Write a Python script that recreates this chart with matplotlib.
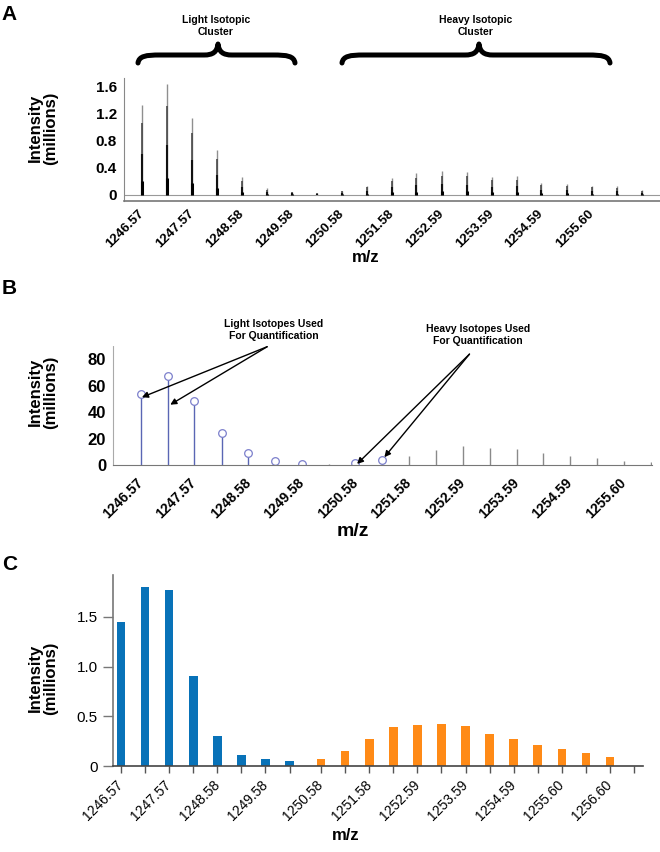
import matplotlib
matplotlib.use("Agg")
import matplotlib.pyplot as plt
from matplotlib import font_manager
from matplotlib.path import Path
from matplotlib.patches import PathPatch

# m/z of the peaks (0.5 apart, doubly charged)
mz_all = [1246.57, 1247.07, 1247.57, 1248.08, 1248.58, 1249.08, 1249.58,
          1250.08, 1250.58, 1251.08, 1251.58, 1252.08, 1252.59, 1253.09,
          1253.59, 1254.09, 1254.59, 1255.10, 1255.60, 1256.10, 1256.60]
tick_labels = ["1246.57", "1247.57", "1248.58", "1249.58", "1250.58",
               "1251.58", "1252.59", "1253.59", "1254.59", "1255.60"]

# panel A: raw spectrum (millions)
spec_a = [1.34, 1.65, 1.14, 0.665, 0.26, 0.10, 0.05, 0.03, 0.065, 0.14,
          0.25, 0.32, 0.355, 0.345, 0.27, 0.28, 0.18, 0.17, 0.14, 0.13, 0.07]

# panel B: centroided stems (millions)
stem_b = [53.5, 67.3, 48.4, 24.0, 9.4, 3.1, 1.0, 0.8, 1.5, 3.6,
          7.1, 11.0, 14.5, 12.7, 12.0, 9.4, 6.6, 5.3, 3.3, 2.0]
used_b = [True, True, True, True, True, True, True, False, True, True,
          False, False, False, False, False, False, False, False, False, False]

# panel C: extracted isotope intensities (millions)
light_mz = ["1246.57", "1247.07", "1247.57", "1248.08", "1248.58", "1249.08",
            "1249.58", "1250.08"]
light_c = [1.446, 1.80, 1.77, 0.907, 0.30, 0.114, 0.074, 0.054]
heavy_mz = ["1250.58", "1251.08", "1251.58", "1252.08", "1252.59", "1253.09",
            "1253.59", "1254.09", "1254.59", "1255.10", "1255.60", "1256.10",
            "1256.60"]
heavy_c = [0.074, 0.147, 0.268, 0.388, 0.41, 0.42, 0.40, 0.325, 0.268,
           0.214, 0.17, 0.127, 0.094]

names = {f.name for f in font_manager.fontManager.ttflist}
narrow = "Liberation Sans Narrow" if "Liberation Sans Narrow" in names else "Liberation Sans"
small = 8.5 if narrow == "Liberation Sans Narrow" else 7.5
plt.rcParams["font.family"] = ["Liberation Sans", "DejaVu Sans"]

W, H = 660, 852
fig = plt.figure(figsize=(6.6, 8.52), dpi=100)


def px_axes(l, t, r, b):
    return fig.add_axes([l / W, 1 - b / H, (r - l) / W, (b - t) / H])


def ftext(x, y, s, **kw):
    fig.text(x / W, 1 - y / H, s, **kw)


def brace(x0, x1, xm, ye=63, yf=55, yt=44):
    pts = [(x0, ye), (x0 + 1, yf + 1), (x0 + 8, yf), (x0 + 22, yf),
           (xm - 14, yf), (xm - 5, yf), (xm - 1, yf - 3), (xm, yt),
           (xm + 1, yf - 3), (xm + 5, yf), (xm + 14, yf),
           (x1 - 22, yf), (x1 - 8, yf), (x1 - 1, yf + 1), (x1, ye)]
    codes = [Path.MOVETO, Path.CURVE4, Path.CURVE4, Path.CURVE4,
             Path.LINETO, Path.CURVE4, Path.CURVE4, Path.CURVE4,
             Path.CURVE4, Path.CURVE4, Path.CURVE4,
             Path.LINETO, Path.CURVE4, Path.CURVE4, Path.CURVE4]
    pts = [(x / W, 1 - y / H) for x, y in pts]
    fig.patches.append(PathPatch(Path(pts, codes), transform=fig.transFigure,
                                 fill=False, lw=3.6, color="k",
                                 capstyle="round", joinstyle="round"))


def ylabel(y):
    ftext(43, y, "Intensity\n(millions)", rotation=90, ha="center",
          va="center", fontsize=12, fontweight="bold", linespacing=1.1)


# ---------------- A ----------------
axA = px_axes(124, 78, 660, 201)
axA.set_xlim(1246.21, 1256.97)
axA.set_ylim(-0.089, 1.733)
axA.axhline(0, color="#999999", lw=0.8)
hA = spec_a
axA.vlines(mz_all, 0, hA, color="#8f8f8f", lw=1.0)
axA.vlines(mz_all, 0, [h * 0.8 for h in hA], color="#4a4a4a", lw=1.2)
axA.vlines(mz_all, 0, [h * 0.45 for h in hA], color="#111111", lw=1.5)
axA.vlines(mz_all, 0, [h * 0.15 for h in hA], color="k", lw=2.2)
for s in ["top", "right"]:
    axA.spines[s].set_visible(False)
axA.spines["left"].set_color("#888888")
axA.spines["bottom"].set_color("#777777")
axA.spines["bottom"].set_linewidth(1.2)
axA.set_yticks([0, 0.4, 0.8, 1.2, 1.6])
axA.set_yticklabels(["0", "0.4", "0.8", "1.2", "1.6"], fontsize=11, fontweight="bold")
axA.tick_params(axis="y", length=0, pad=5)
axA.set_xticks([float(t) for t in tick_labels])
axA.set_xticklabels(tick_labels, rotation=45, ha="right", va="center",
                    rotation_mode="anchor", fontsize=9.5, fontweight="bold")
axA.tick_params(axis="x", length=0, pad=8)
ftext(366, 257, "m/z", ha="center", va="center", fontsize=12, fontweight="bold")
ylabel(128)

ftext(216, 26, "Light Isotopic\nCluster", ha="center", va="center",
      fontsize=small, fontweight="bold", family=narrow, linespacing=1.3)
ftext(476, 26, "Heavy Isotopic\nCluster", ha="center", va="center",
      fontsize=small, fontweight="bold", family=narrow, linespacing=1.3)
brace(138, 295, 218)
brace(342, 610, 479)

# ---------------- B ----------------
axB = px_axes(113, 345, 652, 465)
axB.set_xlim(1246.05, 1256.12)
axB.set_ylim(0, 90.7)
mzB = mz_all[:len(stem_b)]
for x, h, u in zip(mzB, stem_b, used_b):
    axB.vlines(x, 0, h, color="#5a66b4" if u else "#8a8a8a", lw=1.0)
    if u:
        axB.plot(x, h, "o", ms=5.5, mfc="white", mec="#7c80cc", mew=0.9)
for s in ["top", "right"]:
    axB.spines[s].set_visible(False)
axB.spines["left"].set_color("#aaaaaa")
axB.spines["left"].set_linestyle((0, (1, 1)))
axB.spines["bottom"].set_color("#777777")
axB.set_yticks([0, 20, 40, 60, 80])
axB.set_yticklabels(["0", "20", "40", "60", "80"], fontsize=12, fontweight="bold")
axB.tick_params(axis="y", length=0, pad=5)
axB.set_xticks([float(t) for t in tick_labels])
axB.set_xticklabels(tick_labels, rotation=45, ha="right", va="center",
                    rotation_mode="anchor", fontsize=10, fontweight="bold")
axB.tick_params(axis="x", length=0, pad=11)
ftext(353, 532, "m/z", ha="center", va="center", fontsize=14, fontweight="bold")
ylabel(392)

arrow = dict(arrowstyle="-|>", lw=1.0, color="k", mutation_scale=9,
             shrinkA=0, shrinkB=0)
axB.annotate("", xy=(1246.59, 51.2), xytext=(1248.93, 89.4), arrowprops=arrow,
             annotation_clip=False)
axB.annotate("", xy=(1247.12, 45.6), xytext=(1248.93, 89.4), arrowprops=arrow,
             annotation_clip=False)
axB.annotate("", xy=(1250.61, 0.8), xytext=(1252.71, 83.8), arrowprops=arrow,
             annotation_clip=False)
axB.annotate("", xy=(1251.12, 5.9), xytext=(1252.71, 83.8), arrowprops=arrow,
             annotation_clip=False)
ftext(274, 330, "Light Isotopes Used\nFor Quantification", ha="center",
      va="center", fontsize=small, fontweight="bold", family=narrow, linespacing=1.35)
ftext(478, 335, "Heavy Isotopes Used\nFor Quantification", ha="center",
      va="center", fontsize=small, fontweight="bold", family=narrow, linespacing=1.35)

# ---------------- C ----------------
axC = px_axes(113, 575, 643, 766)
gap = 0.31
pos_l = list(range(len(light_c)))
pos_h = [len(light_c) + gap + i for i in range(len(heavy_c))]
axC.bar(pos_l, light_c, width=0.36, color="#0872b8")
axC.bar(pos_h, heavy_c, width=0.36, color="#ff8a16")
axC.set_xlim(-0.33, 21.68)
axC.set_ylim(0, 1.92)
for s in ["top", "right"]:
    axC.spines[s].set_visible(False)
axC.spines["left"].set_color("#777777")
axC.spines["left"].set_linewidth(1.2)
axC.spines["bottom"].set_color("#444444")
axC.spines["bottom"].set_linewidth(1.2)
all_pos = pos_l + pos_h + [pos_h[-1] + 1]
axC.set_xticks(all_pos)
axC.set_xticklabels([l if i % 2 == 0 else "" for i, l in
                     enumerate(light_mz)] +
                    [l if i % 2 == 0 else "" for i, l in enumerate(heavy_mz)] + [""],
                    rotation=45, ha="right", va="center", rotation_mode="anchor",
                    fontsize=10, family=narrow)
axC.tick_params(axis="x", length=5, width=1, color="#555555", pad=7)
axC.set_yticks([0, 0.5, 1.0, 1.5])
axC.set_yticklabels(["0", "0.5", "1.0", "1.5"], fontsize=11, family=narrow)
axC.tick_params(axis="y", length=7, width=1, color="#777777", pad=4)
ftext(346, 835, "m/z", ha="center", va="center", fontsize=12, fontweight="bold",
      family=narrow)
ylabel(678)

# panel letters
ftext(9, 14, "A", ha="center", va="center", fontsize=15, fontweight="bold")
ftext(9, 289, "B", ha="center", va="center", fontsize=15, fontweight="bold")
ftext(10, 565, "C", ha="center", va="center", fontsize=15, fontweight="bold")

fig.savefig("out.png", dpi=100)
